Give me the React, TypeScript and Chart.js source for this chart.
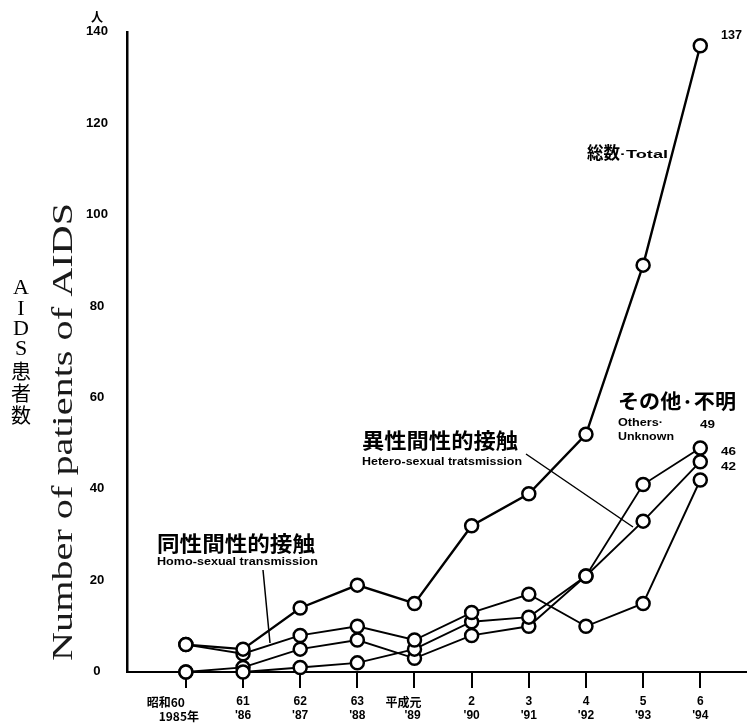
import React, { useEffect, useRef } from "react";
import { Chart, registerables } from "chart.js";

Chart.register(...registerables);

// ---- data ----
const eraLabels = ["昭和60", "61", "62", "63", "平成元", "2", "3", "4", "5", "6"];
const yearLabels = ["1985年", "'86", "'87", "'88", "'89", "'90", "'91", "'92", "'93", "'94"];
const totalCases = [6, 5, 14, 19, 15, 32, 39, 52, 89, 137];
const homoCases = [6, 4, 8, 10, 7, 13, 17, 10, 15, 42];
const heteroCases = [0, 0, 1, 2, 5, 11, 12, 21, 33, 46];
const otherCases = [0, 1, 5, 7, 3, 8, 10, 21, 41, 49];
const yTickValues = [0, 20, 40, 60, 80, 100, 120, 140];
const endLabels = ["137", "49", "46", "42"];
const yUnit = "人";
const yTitle = "Number of patients of AIDS";
const yTitleJa = ["A", "I", "D", "S", "患", "者", "数"];

const CJK = '"Noto Sans CJK JP", "Noto Sans CJK SC", sans-serif';
const SANS = '"Liberation Sans", Arial, sans-serif';
const SERIF = '"Liberation Serif", "DejaVu Serif", serif';

function fitText(
  ctx: CanvasRenderingContext2D,
  text: string,
  x: number,
  y: number,
  width: number,
  align: "left" | "center" | "right" = "left"
) {
  const w = ctx.measureText(text).width || 1;
  const s = width / w;
  ctx.save();
  ctx.translate(x, y);
  ctx.scale(s, 1);
  ctx.textAlign = "left";
  const dx = align === "center" ? -w / 2 : align === "right" ? -w : 0;
  ctx.fillText(text, dx, 0);
  ctx.restore();
}

const textPlugin = {
  id: "refText",
  afterDraw(chart: any) {
    const ctx: CanvasRenderingContext2D = chart.ctx;
    const xs = chart.scales.x;
    const ys = chart.scales.y;
    ctx.save();
    ctx.fillStyle = "#000";
    ctx.strokeStyle = "#000";
    ctx.textBaseline = "middle";

    // y tick labels
    ctx.font = `bold 12px ${SANS}`;
    yTickValues.forEach((v) => {
      const t = String(v);
      fitText(ctx, t, 97, ys.getPixelForValue(v), t.length * 7.3, "center");
    });
    ctx.font = `bold 13px ${CJK}`;
    fitText(ctx, yUnit, 97, ys.getPixelForValue(140) - 16, 12, "center");

    // x labels
    eraLabels.forEach((lab, i) => {
      const x = xs.getPixelForValue(i);
      let dx1 = 0;
      let dx2 = 0;
      if (i === 0) { dx1 = -20; dx2 = -7; }
      if (i === 4) { dx1 = -11; dx2 = -2; }
      const isCjk = /[^\x00-\x7f]/.test(lab);
      ctx.font = isCjk ? `bold 12px ${CJK}` : `bold 12px ${SANS}`;
      ctx.textAlign = "center";
      ctx.fillText(lab, x + dx1, 702);
      const y2 = yearLabels[i];
      ctx.font = /[^\x00-\x7f]/.test(y2) ? `bold 12px ${CJK}` : `bold 12px ${SANS}`;
      ctx.fillText(y2, x + dx2, 716);
    });

    // y axis titles
    ctx.save();
    ctx.translate(64, 432);
    ctx.rotate(-Math.PI / 2);
    ctx.font = `29px ${SERIF}`;
    ctx.fillStyle = "#1a1a1a";
    fitText(ctx, yTitle, 0, 0, 458, "center");
    ctx.restore();

    const jaY = [288, 309, 329, 349, 371, 393, 415];
    yTitleJa.forEach((ch, i) => {
      const isCjk = /[^\x00-\x7f]/.test(ch);
      ctx.font = isCjk ? `20px ${CJK}` : `22px ${SERIF}`;
      ctx.textAlign = "center";
      ctx.fillText(ch, 21, jaY[i]);
    });

    // series annotations
    ctx.textAlign = "left";
    ctx.font = `bold 17px ${CJK}`;
    fitText(ctx, "総数", 587, 153, 33);
    ctx.font = `bold 11px ${SANS}`;
    fitText(ctx, "·Total", 620, 155, 48);

    ctx.font = `bold 12px ${SANS}`;
    fitText(ctx, endLabels[0], 721, 36, 21);
    ctx.font = `bold 11px ${SANS}`;
    fitText(ctx, endLabels[1], 700, 425, 15);
    fitText(ctx, endLabels[2], 721, 452, 15);
    fitText(ctx, endLabels[3], 721, 467, 15);

    ctx.font = `bold 20px ${CJK}`;
    fitText(ctx, "その他·不明", 618, 401, 118);
    ctx.font = `bold 10px ${SANS}`;
    fitText(ctx, "Others·", 618, 423, 45);
    fitText(ctx, "Unknown", 618, 437, 56);

    ctx.font = `bold 21px ${CJK}`;
    fitText(ctx, "異性間性的接触", 362, 440, 156);
    ctx.font = `bold 11px ${SANS}`;
    fitText(ctx, "Hetero-sexual tratsmission", 362, 462, 160);

    ctx.font = `bold 21px ${CJK}`;
    fitText(ctx, "同性間性的接触", 157, 543, 158);
    ctx.font = `bold 11px ${SANS}`;
    fitText(ctx, "Homo-sexual transmission", 157, 562, 161);

    // leader lines
    ctx.lineWidth = 1.5;
    ctx.beginPath();
    ctx.moveTo(263, 570);
    ctx.lineTo(270, 643);
    ctx.moveTo(526, 454);
    ctx.lineTo(633, 527);
    ctx.stroke();
    ctx.restore();
  },
};

function series(label: string, values: number[], width: number) {
  return {
    label,
    data: values.map((v, i) => ({ x: i, y: v })),
    borderColor: "#000",
    borderWidth: width,
    pointRadius: 6.5,
    pointBorderWidth: 2.5,
    pointBackgroundColor: "#fff",
    pointBorderColor: "#000",
    tension: 0,
    fill: false,
    clip: false,
  };
}

export default function App() {
  const ref = useRef<HTMLCanvasElement | null>(null);
  useEffect(() => {
    if (!ref.current) return;
    const chart = new Chart(ref.current, {
      type: "line",
      data: {
        datasets: [
          series("総数 Total", totalCases, 2.4),
          series("同性間性的接触", homoCases, 1.9),
          series("異性間性的接触", heteroCases, 1.9),
          series("その他・不明", otherCases, 1.9),
        ],
      },
      options: {
        animation: false,
        responsive: false,
        devicePixelRatio: 1,
        layout: { padding: { top: 32, right: 0, left: 0, bottom: 0 } },
        plugins: {
          legend: { display: false },
          tooltip: { enabled: false },
        },
        scales: {
          x: {
            type: "linear",
            min: -1.03,
            max: 9.8,
            afterBuildTicks: (s: any) => {
              s.ticks = eraLabels.map((_, i) => ({ value: i }));
            },
            afterFit: (s: any) => {
              s.height = 52;
            },
            ticks: { display: false },
            grid: {
              display: true,
              drawOnChartArea: false,
              drawTicks: true,
              tickLength: 16,
              color: "#000",
              lineWidth: 2,
            },
            border: { display: true, color: "#000", width: 2 },
          },
          y: {
            type: "linear",
            min: 0,
            max: 140,
            afterBuildTicks: (s: any) => {
              s.ticks = yTickValues.map((v) => ({ value: v }));
            },
            afterFit: (s: any) => {
              s.width = 127;
            },
            ticks: { display: false },
            grid: { display: false },
            border: { display: true, color: "#000", width: 2.5 },
          },
        },
      },
      plugins: [textPlugin],
    } as any);
    return () => chart.destroy();
  }, []);
  return (
    <div style={{ position: "fixed", left: 0, top: 0, width: 755, height: 724, background: "#fff" }}>
      <canvas ref={ref} width={755} height={724} style={{ display: "block" }} />
    </div>
  );
}
